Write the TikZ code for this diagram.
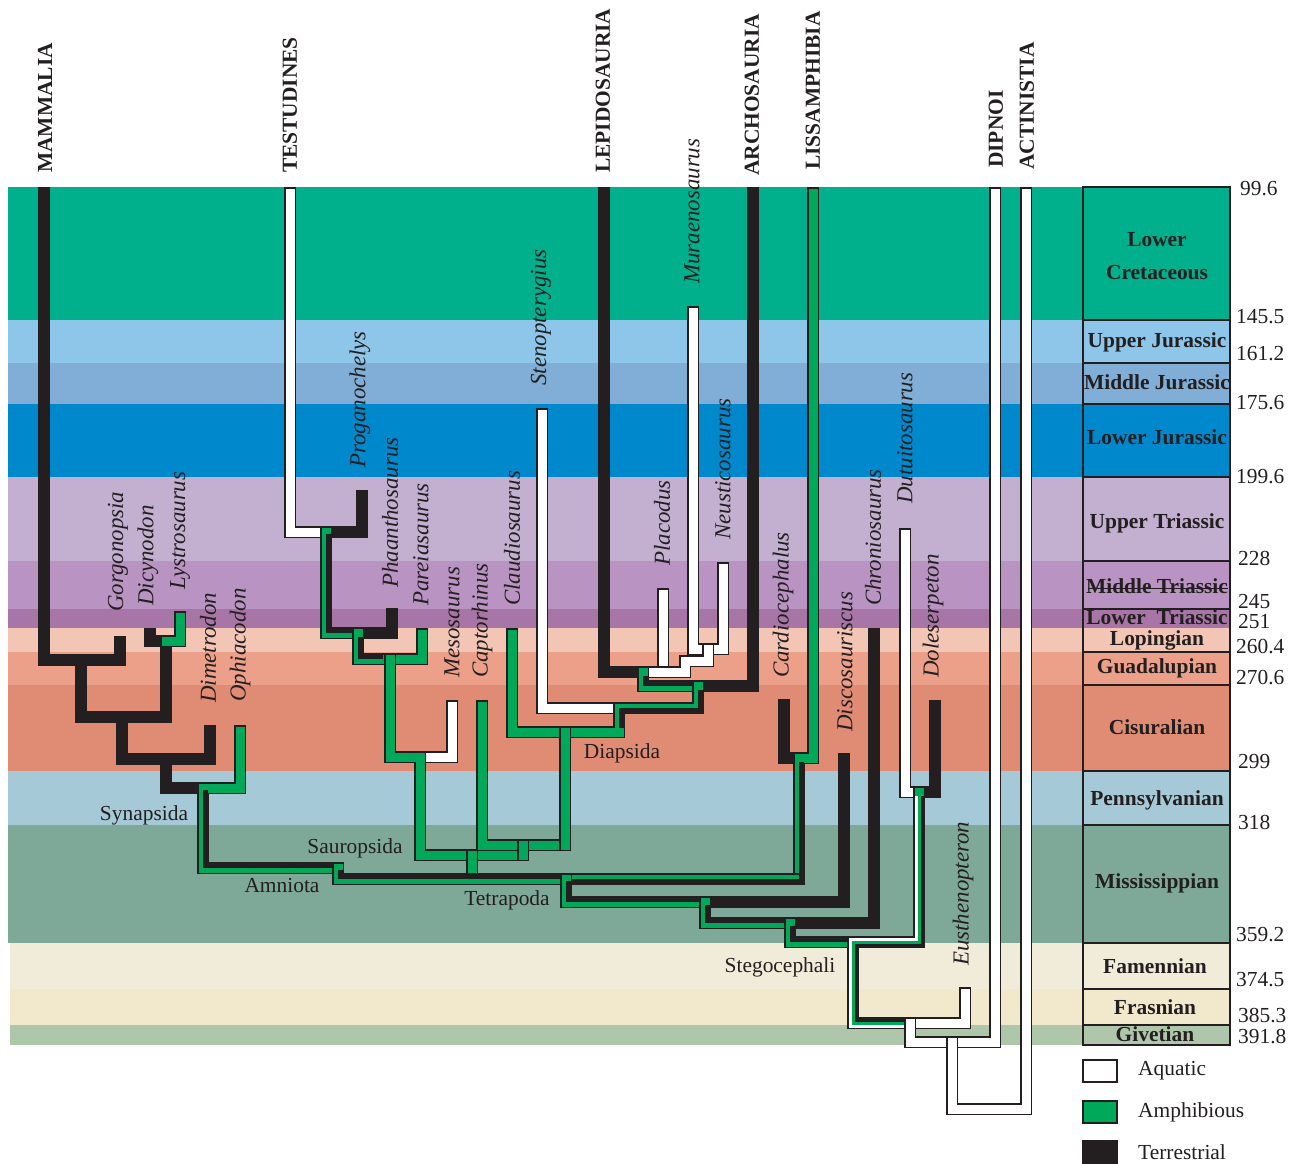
\documentclass[tikz,border=0pt]{standalone}
\usepackage{fontspec}
\setmainfont{Liberation Serif}
\usepackage{xcolor}
\usepackage{tikz}
\usetikzlibrary{positioning}
\definecolor{inkcol}{HTML}{231F20}
\definecolor{amphcol}{HTML}{00A85A}
\definecolor{lcretcol}{HTML}{00AF8B}
\definecolor{ujurcol}{HTML}{8EC6EA}
\definecolor{mjurcol}{HTML}{80AED6}
\definecolor{ljurcol}{HTML}{0088CC}
\definecolor{utricol}{HTML}{C3AFCF}
\definecolor{mtricol}{HTML}{B994C2}
\definecolor{ltricol}{HTML}{A876A6}
\definecolor{lopicol}{HTML}{F3C5B4}
\definecolor{guadcol}{HTML}{ECA089}
\definecolor{cisucol}{HTML}{E08B73}
\definecolor{penncol}{HTML}{A5C9D6}
\definecolor{misscol}{HTML}{7EA897}
\definecolor{famecol}{HTML}{F1ECDA}
\definecolor{frascol}{HTML}{F2E8CB}
\definecolor{givecol}{HTML}{AEC6AA}
\tikzset{
  terr/.style={draw=inkcol, line width=12bp, line cap=rect, line join=miter},
  amph/.style={draw=inkcol, double=amphcol, line width=1.5bp, double distance=9bp, line cap=rect, line join=miter},
  aqua/.style={draw=inkcol, double=white, line width=1.5bp, double distance=9bp, line cap=rect, line join=miter},
  halfterr/.style={draw=inkcol, line width=4.5bp, line cap=butt, line join=miter},
  thirdterr/.style={draw=inkcol, line width=3bp, line cap=butt, line join=miter},
  thirdaqua/.style={draw=white, line width=3bp, line cap=butt, line join=miter},
  genus/.style={rotate=90, anchor=west, inner sep=0pt, text=inkcol, font=\fontsize{23}{26}\selectfont\itshape},
  group/.style={rotate=90, anchor=west, inner sep=0pt, text=inkcol, font=\fontsize{21.5}{24}\selectfont\bfseries},
  clade/.style={inner sep=0pt, text=inkcol, font=\fontsize{21.5}{24}\selectfont},
  period/.style={inner sep=0pt, text=inkcol, align=center, font=\fontsize{21.5}{33}\selectfont\bfseries},
  age/.style={anchor=west, inner sep=0pt, text=inkcol, font=\fontsize{21.5}{24}\selectfont},
  legbox/.style={draw=inkcol, line width=2bp, minimum width=34bp, minimum height=22bp, inner sep=0pt},
}
\begin{document}
\begin{tikzpicture}[x=1bp, y=-1bp]
        \useasboundingbox (0,0) rectangle (1295,1164);
        % Time bands
        \fill[lcretcol] (8,187) rectangle (1230,320);
        \fill[ujurcol] (8,320) rectangle (1230,363);
        \fill[mjurcol] (8,363) rectangle (1230,404);
        \fill[ljurcol] (8,404) rectangle (1230,477);
        \fill[utricol] (8,477) rectangle (1230,561);
        \fill[mtricol] (8,561) rectangle (1230,609);
        \fill[ltricol] (8,609) rectangle (1230,628);
        \fill[lopicol] (8,628) rectangle (1230,652);
        \fill[guadcol] (8,652) rectangle (1230,685);
        \fill[cisucol] (8,685) rectangle (1230,771);
        \fill[penncol] (8,771) rectangle (1230,825);
        \fill[misscol] (8,825) rectangle (1230,943);
        \fill[famecol] (10,943) rectangle (1230,989);
        \fill[frascol] (10,989) rectangle (1230,1025);
        \fill[givecol] (10,1025) rectangle (1230,1045);
        % Time scale column
        \draw[inkcol, line width=2.5bp] (1083,187) rectangle (1230,1045);
        \draw[inkcol, line width=2.5bp] (1083,320) -- (1230,320) (1083,363) -- (1230,363) (1083,404) -- (1230,404)
            (1083,477) -- (1230,477) (1083,561) -- (1230,561) (1083,609) -- (1230,609) (1083,652) -- (1230,652)
            (1083,685) -- (1230,685) (1083,771) -- (1230,771) (1083,825) -- (1230,825) (1083,943) -- (1230,943)
            (1083,989) -- (1230,989) (1083,1025) -- (1230,1025);
        \draw[inkcol, line width=0.8bp] (1088,588) -- (1228,588);
        \node[period] (lcret) at (1157,256) {Lower\\Cretaceous};
        \node[period] (ujur) at (1157,342) {Upper Jurassic};
        \node[period] (mjur) at (1157,382) {Middle Jurassic};
        \node[period] (ljur) at (1157,437) {Lower Jurassic};
        \node[period] (utri) at (1157,523) {Upper Triassic};
        \node[period] (mtri) at (1157,586) {Middle Triassic};
        \node[period] (ltri) at (1157,617) {Lower\ \ Triassic};
        \node[period] (lopi) at (1157,640) {Lopingian};
        \node[period] (guad) at (1157,668) {Guadalupian};
        \node[period] (cisu) at (1157,727) {Cisuralian};
        \node[period] (penn) at (1157,800) {Pennsylvanian};
        \node[period] (miss) at (1157,883) {Mississippian};
        \node[period] (fame) at (1155,966) {Famennian};
        \node[period] (fras) at (1155,1007) {Frasnian};
        \node[period] (give) at (1155,1034) {Givetian};
        % Ages
        \node[age] (a1) at (1240,189) {99.6};
        \node[age] (a2) at (1236,317) {145.5};
        \node[age] (a3) at (1236,354) {161.2};
        \node[age] (a4) at (1236,403) {175.6};
        \node[age] (a5) at (1236,477) {199.6};
        \node[age] (a6) at (1238,558) {228};
        \node[age] (a7) at (1238,602) {245};
        \node[age] (a8) at (1238,622) {251};
        \node[age] (a9) at (1236,647) {260.4};
        \node[age] (a10) at (1236,678) {270.6};
        \node[age] (a11) at (1238,762) {299};
        \node[age] (a12) at (1238,822) {318};
        \node[age] (a13) at (1236,935) {359.2};
        \node[age] (a14) at (1236,980) {374.5};
        \node[age] (a15) at (1238,1016) {385.3};
        \node[age] (a16) at (1238,1037) {391.8};
        % Synapsida
        \draw[terr] (44,193) -- (44,660) -- (120,660) -- (120,642);
        \draw[terr] (81,660) -- (81,717) -- (166,717) -- (166,641) -- (150,641) -- (150,634);
        \draw[terr] (122,717) -- (122,759) -- (210,759) -- (210,731);
        \draw[terr] (166,759) -- (166,788) -- (203,788);
        \draw[amph] (166,641) -- (180,641) -- (180,617);
        \draw[amph] (240,731) -- (240,788) -- (203,788) -- (203,868) -- (338,868);
        \draw[halfterr] (205.25,790) -- (205.25,865.75) -- (338,865.75);
        % Testudines and Parareptilia
        \draw[aqua] (290,193) -- (290,532) -- (326,532);
        \draw[terr] (362,496) -- (362,532) -- (326,532);
        \draw[terr] (392,614) -- (392,633) -- (358,633);
        \draw[amph] (326,532) -- (326,633) -- (358,633);
        \draw[halfterr] (328.25,534) -- (328.25,630.75) -- (358,630.75);
        \draw[amph] (358,633) -- (358,659) -- (422,659) -- (422,634);
        \draw[halfterr] (360.25,637) -- (360.25,656.75) -- (383,656.75);
        \draw[aqua] (452,706) -- (452,757) -- (420,757);
        \draw[amph] (390,659) -- (390,757) -- (420,757) -- (420,855) -- (523,855);
        % Diapsida
        \draw[amph] (482,706) -- (482,845) -- (565,845);
        \draw[aqua] (542,414) -- (542,708) -- (619,708);
        \draw[terr] (604,193) -- (604,672) -- (643,672);
        \draw[aqua] (693,312) -- (693,649) -- (723,649) -- (723,568);
        \draw[aqua] (663,594) -- (663,672);
        \draw[aqua] (643,672) -- (685,672) -- (685,661) -- (708,661) -- (708,649);
        \draw[terr] (698,686) -- (753,686) -- (753,193);
        \draw[amph] (643,672) -- (643,686) -- (698,686);
        \draw[halfterr] (645.25,676) -- (645.25,683.75) -- (698,683.75);
        \draw[amph] (512,634) -- (512,732) -- (619,732) -- (619,708) -- (698,708) -- (698,686);
        \draw[halfterr] (700.25,690) -- (700.25,710.25) -- (621.25,710.25) -- (621.25,728);
        \draw[amph] (565,732) -- (565,845);
        \draw[amph] (523,845) -- (523,855);
        \draw[amph] (472,855) -- (472,868);
        % Tetrapoda
        \draw[terr] (784,705) -- (784,758) -- (799,758);
        \draw[amph] (813,193) -- (813,758) -- (799,758) -- (799,879);
        \draw[amph] (338,868) -- (338,879) -- (799,879);
        \draw[halfterr] (340.25,870) -- (340.25,876.75) -- (566,876.75);
        \draw[halfterr] (801.25,762) -- (801.25,881.25) -- (566,881.25);
        \draw[terr] (844,759) -- (844,902) -- (705,902);
        \draw[amph] (566,879) -- (566,902) -- (705,902);
        \draw[halfterr] (568.25,881) -- (568.25,899.75) -- (705,899.75);
        \draw[terr] (874,634) -- (874,923) -- (790,923);
        \draw[amph] (705,902) -- (705,923) -- (790,923);
        \draw[halfterr] (707.25,905) -- (707.25,920.75) -- (790,920.75);
        \draw[aqua] (905,534) -- (905,792) -- (919,792);
        \draw[terr] (935,706) -- (935,792) -- (919,792);
        \draw[amph] (790,923) -- (790,942) -- (853,942);
        \draw[halfterr] (792.25,926) -- (792.25,939.75) -- (853,939.75);
        \draw[amph] (919,792) -- (919,942) -- (853,942) -- (853,1023) -- (910,1023);
        \draw[thirdterr] (922,796) -- (922,945) -- (856,945) -- (856,1020) -- (908,1020);
        \draw[thirdaqua] (916,796) -- (916,939) -- (850,939) -- (850,1026) -- (908,1026);
        % Sarcopterygii
        \draw[aqua] (965,993) -- (965,1023) -- (910,1023);
        \draw[aqua] (910,1023) -- (910,1042) -- (995,1042) -- (995,193);
        \draw[aqua] (952,1042) -- (952,1109) -- (1026,1109) -- (1026,193);
        % Crown groups
        \node[group] (mammalia) at (45,173) {MAMMALIA};
        \node[group] (testudines) at (290,173) {TESTUDINES};
        \node[group] (lepido) at (603,173) {LEPIDOSAURIA};
        \node[group] (archo) at (752,176) {ARCHOSAURIA};
        \node[group] (lissamph) at (813,170) {LISSAMPHIBIA};
        \node[group] (dipnoi) at (996,168) {DIPNOI};
        \node[group] (actin) at (1027,170) {ACTINISTIA};
        % Genera
        \node[genus] (gorgo) at (118,612) {Gorgonopsia};
        \node[genus] (dicyn) at (148,606) {Dicynodon};
        \node[genus] (lystro) at (180,590) {Lystrosaurus};
        \node[genus] (dimet) at (208,703) {Dimetrodon};
        \node[genus] (ophia) at (240,702) {Ophiacodon};
        \node[genus] (progan) at (360,468) {Proganochelys};
        \node[genus] (phaan) at (390,588) {Phaanthosaurus};
        \node[genus] (pareia) at (421,606) {Pareiasaurus};
        \node[genus] (meso) at (452,678) {Mesosaurus};
        \node[genus] (capto) at (482,678) {Captorhinus};
        \node[genus] (claud) at (512,606) {Claudiosaurus};
        \node[genus] (steno) at (541,386) {Stenopterygius};
        \node[genus] (murae) at (692,284) {Muraenosaurus};
        \node[genus] (placo) at (662,566) {Placodus};
        \node[genus] (neust) at (723,540) {Neusticosaurus};
        \node[genus] (cardio) at (783,678) {Cardiocephalus};
        \node[genus] (disco) at (845,732) {Discosauriscus};
        \node[genus] (chron) at (873,606) {Chroniosaurus};
        \node[genus] (dutui) at (905,504) {Dutuitosaurus};
        \node[genus] (doles) at (933,678) {Doleserpeton};
        \node[genus] (eusth) at (963,966) {Eusthenopteron};
        % Clades
        \node[clade] (synaps) at (144,815) {Synapsida};
        \node[clade] (saurops) at (355,848) {Sauropsida};
        \node[clade] (amniota) at (282,886) {Amniota};
        \node[clade] (tetrap) at (507,900) {Tetrapoda};
        \node[clade] (diaps) at (622,753) {Diapsida};
        \node[clade] (stego) at (780,967) {Stegocephali};
        % Legend
        \node[legbox, fill=white] (aquabox) at (1100,1071) {};
        \node[legbox, fill=amphcol] (amphbox) at (1100,1112) {};
        \node[legbox, fill=inkcol] (terrbox) at (1100,1152) {};
        \node[age, right=20bp of aquabox] (aqualbl) {Aquatic};
        \node[age, right=20bp of amphbox] (amphlbl) {Amphibious};
        \node[age, right=20bp of terrbox] (terrlbl) {Terrestrial};
\end{tikzpicture}
\end{document}
